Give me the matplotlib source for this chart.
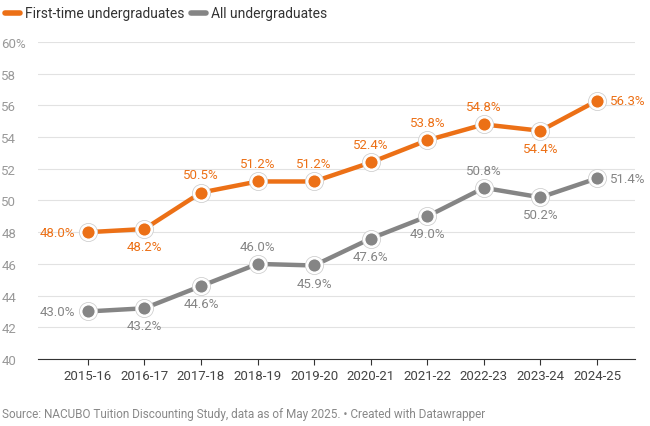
import matplotlib
matplotlib.use("Agg")
import matplotlib.pyplot as plt
from matplotlib.lines import Line2D

years = ["2015-16","2016-17","2017-18","2018-19","2019-20","2020-21","2021-22","2022-23","2023-24","2024-25"]
first_time = [48.0,48.2,50.5,51.2,51.2,52.4,53.8,54.8,54.4,56.3]
all_ug = [43.0,43.2,44.6,46.0,45.9,47.6,49.0,50.8,50.2,51.4]
first_pos = ["left","below","above","above","above","above","above","above","below","right"]
all_pos = ["left","below","below","above","below","below","below","above","below","right"]
yticks = [40,42,44,46,48,50,52,54,56,58,60]

plt.rcParams["font.family"] = "Roboto"
ORANGE = "#ec7016"
GRAY = "#858585"
fig = plt.figure(figsize=(6.5,4.27), dpi=100)
ax = fig.add_axes([38/650, 1-360/427, (635-38)/650, (360-43)/427])
x = list(range(len(years)))
for vals, pos, c in [(first_time, first_pos, ORANGE), (all_ug, all_pos, GRAY)]:
    ax.plot(x, vals, color=c, lw=3.2, zorder=3, solid_capstyle="round")
    ax.scatter(x, vals, s=170, facecolor="white", edgecolor="#d0d0d0", lw=0.6, zorder=4)
    ax.scatter(x, vals, s=95, color=c, edgecolor="white", lw=1.0, zorder=5)
    for xi, v, p in zip(x, vals, pos):
        t = f"{v:.1f}%"
        if p == "left":
            ax.annotate(t, (xi, v), xytext=(-9, 0), textcoords="offset points", ha="right", va="center", color=c, fontsize=9.5)
        elif p == "right":
            ax.annotate(t, (xi, v), xytext=(9, 0), textcoords="offset points", ha="left", va="center", color=c, fontsize=9.5)
        elif p == "above":
            ax.annotate(t, (xi, v), xytext=(0, 8), textcoords="offset points", ha="center", va="bottom", color=c, fontsize=9.5)
        else:
            ax.annotate(t, (xi, v), xytext=(0, -8), textcoords="offset points", ha="center", va="top", color=c, fontsize=9.5)

ax.set_xlim(-0.88, 9.67)
ax.set_ylim(40, 60)
ax.set_yticks(yticks)
ax.set_yticklabels([f"{t}%" if t == 60 else str(t) for t in yticks])
ax.set_xticks(x)
ax.set_xticklabels(years)
ax.grid(axis="y", color="#e2e2e2", lw=0.8)
ax.set_axisbelow(True)
for s in ax.spines.values():
    s.set_visible(False)
ax.spines["bottom"].set_visible(True)
ax.spines["bottom"].set_color("#333333")
ax.tick_params(axis="y", length=0, labelcolor="#999999", labelsize=9.5, pad=-1)
for lbl in ax.get_yticklabels():
    lbl.set_horizontalalignment("left")
    lbl.set_x(-38/597)
ax.tick_params(axis="x", length=4, color="#333333", labelcolor="#444444", labelsize=9.5)

ly = 1-14/427
fig.add_artist(Line2D([5/650, 20/650], [ly, ly], color=ORANGE, lw=4, solid_capstyle="round"))
fig.text(25/650, ly, "First-time undergraduates", color="#333333", fontsize=10, va="center")
fig.add_artist(Line2D([191/650, 206/650], [ly, ly], color=GRAY, lw=4, solid_capstyle="round"))
fig.text(211/650, ly, "All undergraduates", color="#333333", fontsize=10, va="center")
fig.text(2/650, 1-415/427, "Source: NACUBO Tuition Discounting Study, data as of May 2025. • Created with Datawrapper",
         color="#888888", fontsize=8.5, va="center")
fig.savefig("out.png", dpi=100)
